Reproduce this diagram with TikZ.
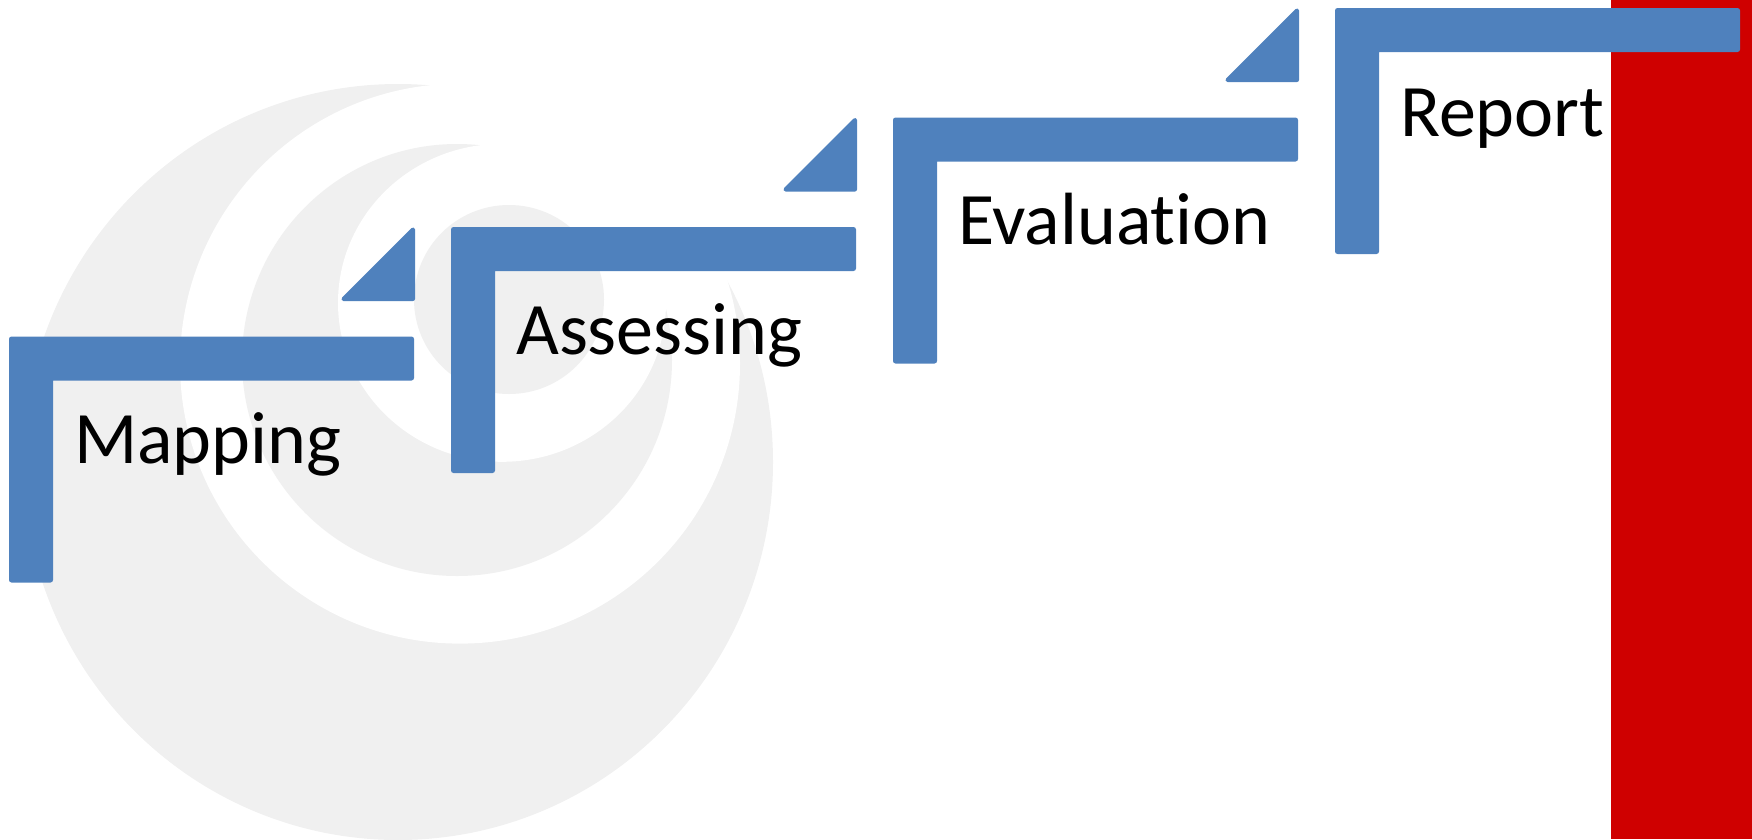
\documentclass[tikz,border=0pt]{standalone}
\usepackage{fontspec}
\setmainfont{Carlito}[Ligatures=NoCommon]
\tikzset{
  swirl/.style={fill=swirlgray,draw=none},
  cutout/.style={fill=white,draw=none},
  stepshape/.style={fill=stepblue,draw=none},
  steplabel/.style={anchor=base west,inner sep=0pt,font=\fontsize{74}{74}\selectfont,text=black},
  pics/bent/.style={code={
    \path[stepshape] (0,246) [rounded corners=2.5pt] -- (0,0) -- (405,0) -- (405,44) [sharp corners] -- (44,44) [rounded corners=2.5pt] -- (44,246) -- cycle;
  }},
  pics/wedge/.style={code={
    \path[stepshape,draw=stepblue,line width=4pt,line join=round] (2.5,72) -- (72,2.5) -- (72,72) -- cycle;
  }}
}
\definecolor{swirlgray}{HTML}{F0F0F0}
\definecolor{stepblue}{HTML}{4F81BD}
\definecolor{sidered}{HTML}{CF0000}
\begin{document}
\begin{tikzpicture}[x=1pt,y=-1pt]
\useasboundingbox (0,0) rectangle (1752,839);
% swirl
\fill[swirl] (398,462) ellipse [x radius=375,y radius=378];
\fill[cutout] (460,363.6) ellipse [x radius=280,y radius=280];
\fill[swirl] (457,360) ellipse [x radius=215,y radius=216];
\fill[cutout] (502,302.8) ellipse [x radius=164,y radius=159];
\fill[swirl] (509,299.5) ellipse [x radius=95,y radius=94.5];
% side band
\fill[sidered] (1611,0) rectangle (1752,839);
% steps
\pic at (9,336.5) {bent};
\pic at (451,227) {bent};
\pic at (893,117.5) {bent};
\pic at (1335,8) {bent};
\pic at (341,227) {wedge};
\pic at (783,117.5) {wedge};
\pic at (1225,8) {wedge};
% labels
\node[steplabel] (mapping) at (74,463) {Mapping};
\node[steplabel] (assessing) at (516,354) {Assessing};
\node[steplabel] (evaluation) at (958,244.5) {Evaluation};
\node[steplabel] (report) at (1400,136) {Report};
\end{tikzpicture}
\end{document}
